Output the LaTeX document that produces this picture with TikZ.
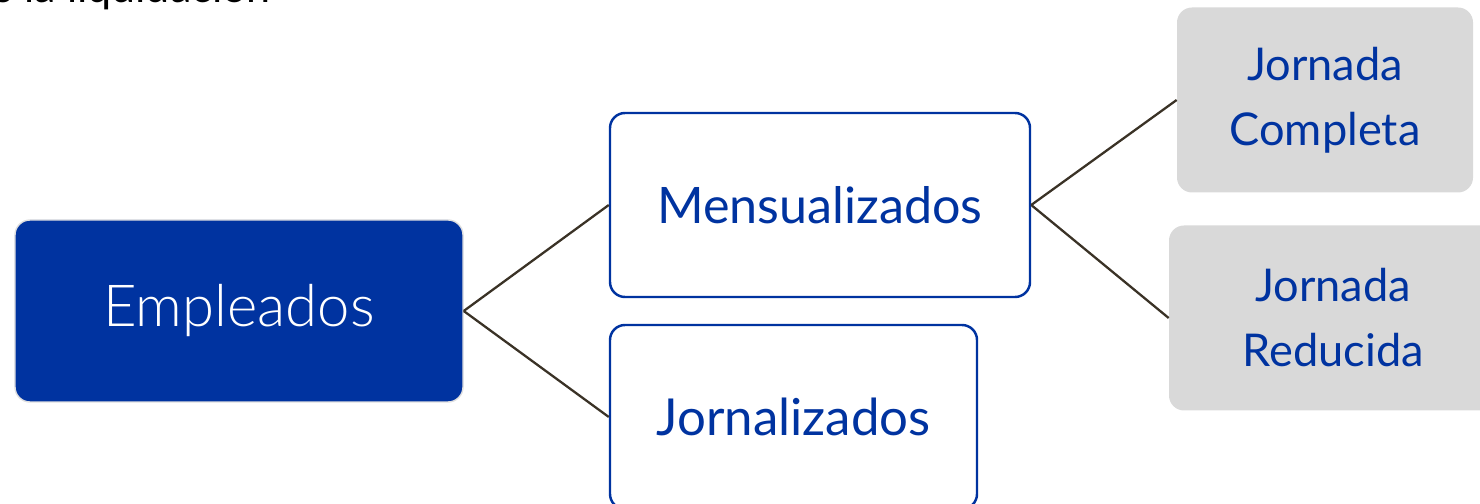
\documentclass[tikz,border=0pt]{standalone}
\usepackage{fontspec}
\setmainfont{Lato}
\newfontfamily\ligera{Lato Light}
\definecolor{azul}{HTML}{0033A0}
\definecolor{gris}{HTML}{D9D9D9}
\definecolor{linea}{HTML}{3A3226}
\tikzset{
    caja/.style={rectangle, rounded corners=0.3cm, inner sep=0pt, align=center},
    ramas/.style={draw=linea, line width=1.3pt}
}
\begin{document}
\begin{tikzpicture}
                \useasboundingbox (0,0) rectangle (29.6,10.08);
                \node[anchor=base east, text=black, font=\fontsize{24.5}{30}\selectfont] (titulo) at (5.54,10.02) {s la liquidación};
                \node[caja, fill=azul, draw=gray!25, line width=0.8pt, minimum width=8.96cm, minimum height=3.64cm, text=white, font=\ligera\fontsize{33}{39}\selectfont] (emp) at (4.78,3.86) {Empleados};
                \node[caja, fill=white, draw=azul, line width=1.4pt, minimum width=8.4cm, minimum height=3.68cm, text=azul, font=\fontsize{28.6}{34}\selectfont] (men) at (16.4,5.98) {Mensualizados};
                \node[caja, fill=white, draw=azul, line width=1.4pt, minimum width=7.34cm, minimum height=3.68cm, text=azul, font=\fontsize{29}{35}\selectfont] (jor) at (15.87,1.74) {Jornalizados};
                \node[caja, fill=gris, minimum width=5.92cm, minimum height=3.7cm, text=azul, font=\fontsize{25.7}{37}\selectfont] (jc) at (26.5,8.08) {Jornada\\Completa};
                \node[caja, fill=gris, minimum width=6.56cm, minimum height=3.7cm, text=azul, font=\fontsize{25.7}{37}\selectfont] (jr) at (26.66,3.72) {Jornada\\Reducida};
                \foreach \a/\b in {emp/men,emp/jor,men/jc,men/jr}
                {
                    \draw[ramas] (\a.east) -- (\b.west);
                }
            \end{tikzpicture}
\end{document}
